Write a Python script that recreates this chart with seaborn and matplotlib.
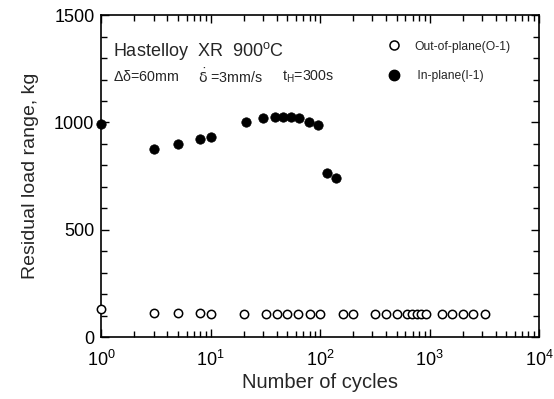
import numpy as np
import pandas as pd
import seaborn as sns
import matplotlib
matplotlib.use("Agg")
import matplotlib.pyplot as plt
from matplotlib.ticker import LogLocator, MultipleLocator, NullFormatter
from matplotlib.lines import Line2D

# out-of-plane (O-1)
outCycles = [1, 3, 5, 8, 10, 20, 32, 40, 50, 63, 80, 100, 160, 200,
             320, 400, 505, 620, 690, 760, 840, 930, 1290, 1600, 2000, 2500, 3200]
outLoad = [130, 112, 112, 112, 110, 110, 110, 110, 110, 110, 110, 110, 108, 108,
           108, 108, 108, 108, 108, 108, 108, 106, 106, 106, 106, 106, 106]

# in-plane (I-1)
inCycles = [1, 3, 5, 8, 10, 21, 30, 39, 46, 54, 64, 79, 96, 116, 139]
inLoad = [995, 878, 902, 922, 932, 1003, 1019, 1026, 1027, 1026, 1020, 1003, 988, 765, 742]

xTicks = [1, 10, 100, 1000, 10000]
xTickLabels = [r'$10^0$', r'$10^1$', r'$10^2$', r'$10^3$', r'$10^4$']

outDf = pd.DataFrame({'cycles': outCycles, 'load': outLoad})
inDf = pd.DataFrame({'cycles': inCycles, 'load': inLoad})

sns.set_style('ticks')
plt.rcParams['font.family'] = ['Liberation Sans', 'DejaVu Sans']
plt.rcParams['mathtext.fontset'] = 'custom'
plt.rcParams['mathtext.rm'] = 'Liberation Sans'
plt.rcParams['mathtext.it'] = 'Liberation Sans'

fig = plt.figure(figsize=(5.54, 3.99), dpi=100)
ax = fig.add_axes([0.183, 0.155, 0.790, 0.807])

sns.scatterplot(data=outDf, x='cycles', y='load', ax=ax, marker='o', s=36,
                facecolor='white', edgecolor='black', linewidth=1.1, clip_on=False, zorder=3)
sns.scatterplot(data=inDf, x='cycles', y='load', ax=ax, marker='o', s=46,
                color='black', edgecolor='black', linewidth=0.5, clip_on=False, zorder=3)

ax.set_xscale('log')
ax.set_xlim(1, 1e4)
ax.set_ylim(0, 1500)
ax.set_yticks([0, 500, 1000, 1500])
ax.yaxis.set_minor_locator(MultipleLocator(100))
ax.set_xticks(xTicks, xTickLabels)
ax.xaxis.set_minor_locator(LogLocator(base=10, subs=np.arange(2, 10), numticks=20))
ax.xaxis.set_minor_formatter(NullFormatter())

ax.tick_params(which='both', direction='in', top=True, right=True, labelsize=13, colors='black', width=1)
ax.tick_params(which='major', length=6, pad=5)
ax.tick_params(which='minor', length=4)
ax.tick_params(axis='x', which='major', pad=9)
for sp in ax.spines.values():
    sp.set_linewidth(1.2)
    sp.set_color('black')

ax.set_xlabel('Number of cycles', fontsize=14.5, labelpad=2)
ax.set_ylabel('Residual load range, kg', fontsize=14, labelpad=11)

ax.text(0.027, 0.888, r'Hastelloy  XR  900$^{\rm o}$C', transform=ax.transAxes, fontsize=13, va='center')
ax.text(0.027, 0.81, r'$\Delta\delta$=60mm', transform=ax.transAxes, fontsize=10.3, va='center')
ax.text(0.22, 0.81, r'$\dot{\mathrm{\delta}}$ =3mm/s', transform=ax.transAxes, fontsize=10.3, va='center',
        math_fontfamily='dejavusans')
ax.text(0.413, 0.81, r't$_{\rm H}$=300s', transform=ax.transAxes, fontsize=10.3, va='center')

handles = [Line2D([], [], marker='o', linestyle='', markerfacecolor='white', markeredgecolor='black',
                  markeredgewidth=1.1, markersize=6.5),
           Line2D([], [], marker='o', linestyle='', markerfacecolor='black', markeredgecolor='black', markersize=7.5)]
ax.legend(handles, ['Out-of-plane(O-1)', ' In-plane(I-1)'], loc='upper left', frameon=False,
          fontsize=8.7, bbox_to_anchor=(0.615, 0.955), handletextpad=0.7, labelspacing=1.45)

fig.savefig('out.png', dpi=100)
